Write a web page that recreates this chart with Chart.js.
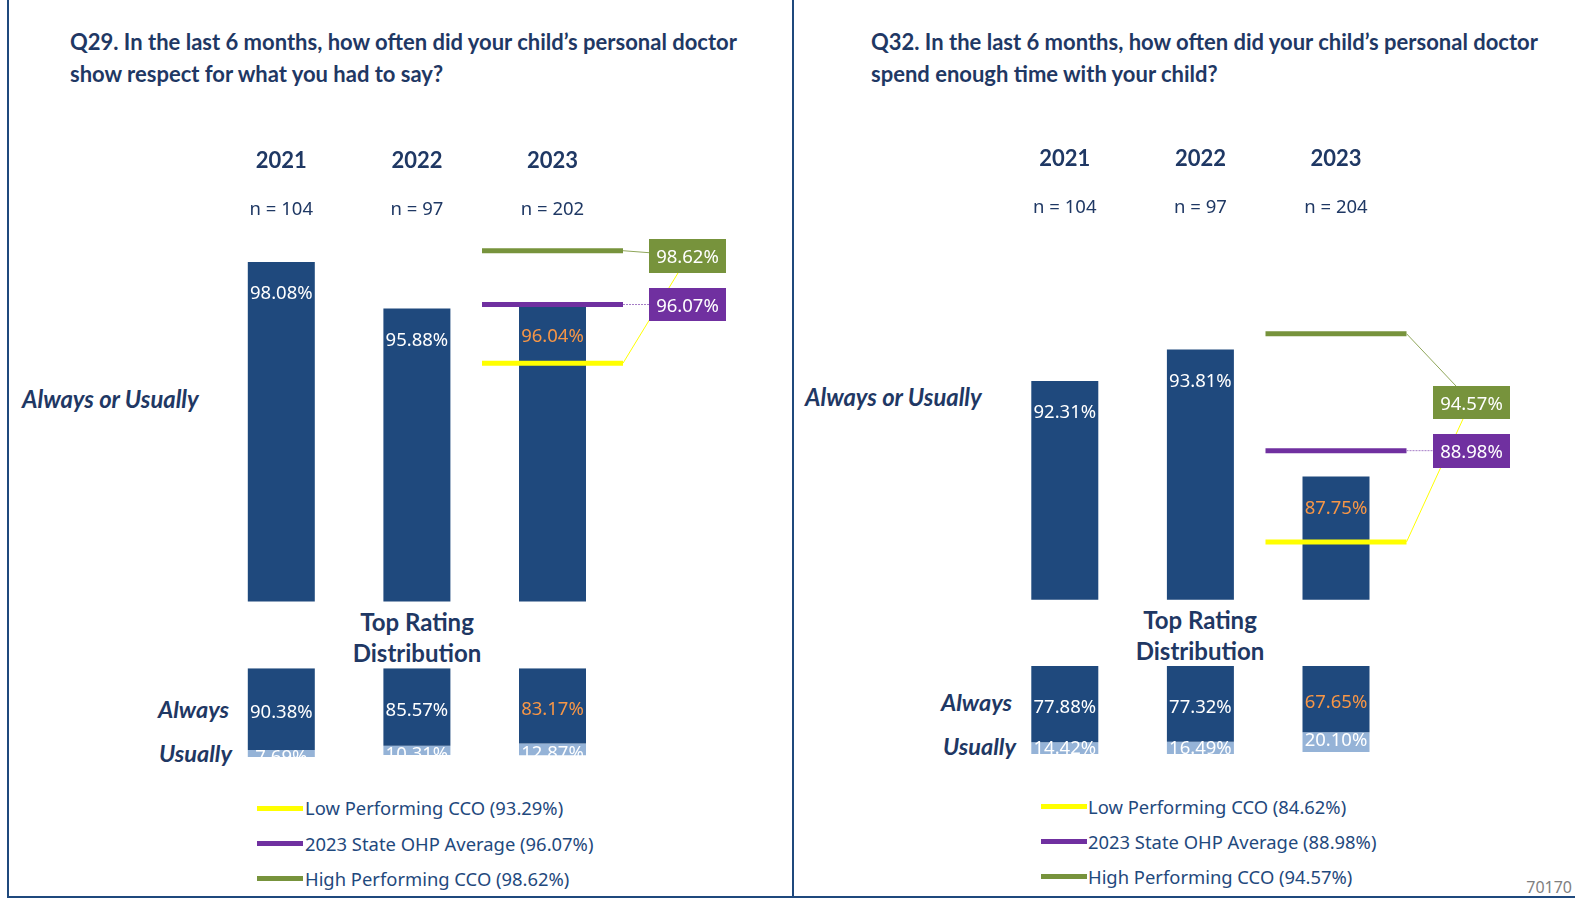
<!DOCTYPE html>
<html>
<head>
<meta charset="utf-8">
<script src="https://cdn.jsdelivr.net/npm/chart.js@4.4.1/dist/chart.umd.min.js"></script>
<style>
body { margin: 0; width: 1575px; height: 898px; position: relative; overflow: hidden; background: #fff; font-family: 'Noto Sans', sans-serif; }
canvas { position: absolute; left: 0; top: 0; }
.t { position: absolute; white-space: nowrap; color: #1F3864; }
.title { font: bold 22px Lato; line-height: 32px; }
.side { font: italic bold 23.8px Lato; line-height: 28px; }
.trd { font: bold 24px Lato; line-height: 31px; text-align: center; width: 200px; }
.ar { font: italic bold 23.5px Lato; line-height: 28px; text-align: right; width: 120px; }
.leg { font: 18.4px 'Noto Sans'; line-height: 24px; color: #1F497D; }
.sw { position: absolute; width: 46px; height: 5px; }
.rule { position: absolute; background: #1F497D; }
</style>
</head>
<body>
<div class="rule" style="left:7px;top:0;width:2px;height:898px"></div>
<div class="rule" style="left:792px;top:0;width:2px;height:898px"></div>
<div class="rule" style="left:7px;top:896px;width:1568px;height:2px"></div>

<div class="t title" style="left:70px;top:26px">Q29. In the last 6 months, how often did your child’s personal doctor<br>show respect for what you had to say?</div>
<div class="t title" style="left:871px;top:26px">Q32. In the last 6 months, how often did your child’s personal doctor<br>spend enough time with your child?</div>

<div class="t side" style="left:22px;top:385px">Always or Usually</div>
<div class="t side" style="left:805px;top:383px">Always or Usually</div>

<div class="t trd" style="left:317px;top:606px">Top Rating<br>Distribution</div>
<div class="t trd" style="left:1100px;top:604px">Top Rating<br>Distribution</div>

<div class="t ar" style="left:109px;top:695px">Always</div>
<div class="t ar" style="left:112px;top:739px">Usually</div>
<div class="t ar" style="left:892px;top:688px">Always</div>
<div class="t ar" style="left:896px;top:732px">Usually</div>

<div id="legQ29"></div>
<div id="legQ32"></div>

<div class="t" style="right:3px;top:876px;font:16px 'Noto Sans';color:#7F7F7F;line-height:22px">70170</div>

<canvas id="q29top" width="1575" height="898"></canvas>
<canvas id="q29bot" width="1575" height="898"></canvas>
<canvas id="q32top" width="1575" height="898"></canvas>
<canvas id="q32bot" width="1575" height="898"></canvas>

<script>
// data
const years = ['2021', '2022', '2023'];
const benchNames = ['Low Performing CCO', '2023 State OHP Average', 'High Performing CCO'];

const q29N = [104, 97, 202];
const q29Top = [98.08, 95.88, 96.04];
const q29Always = [90.38, 85.57, 83.17];
const q29Usually = [7.69, 10.31, 12.87];
const q29Bench = [93.29, 96.07, 98.62];

const q32N = [104, 97, 204];
const q32Top = [92.31, 93.81, 87.75];
const q32Always = [77.88, 77.32, 67.65];
const q32Usually = [14.42, 16.49, 20.10];
const q32Bench = [84.62, 88.98, 94.57];

// styles
const NAVY = '#1F3864';
const BAR = '#1F497D';
const LIGHT = '#95B3D7';
const ORANGE = '#F79646';
const benchColors = ['#FFFF00', '#7030A0', '#77933C'];
const HALF = 70.5;

Chart.defaults.animation = false;
Chart.defaults.responsive = false;
Chart.defaults.devicePixelRatio = 1;

// layout for each panel (page pixels)
const q29Geo = {
  area: { left: 213.5, right: 620.3, top: 221.6, bottom: 601.4 },
  yMin: 82, yearY: 161, nY: 210,
  bot: { top: 668.3, bottom: 757, max: 98.1, usualShift: 4 },
  boxGreen: { x: 649, y: 239, w: 77, h: 34 },
  boxPurple: { x: 649, y: 288, w: 77, h: 33 },
  greenTo: [649, 252.7], yellowTo: [678, 273],
  leg: { x: 256.5, text: 305, rows: [808.3, 843.5, 878.7] }
};
const q32Geo = {
  area: { left: 997, right: 1403.8, top: 220.0, bottom: 599.7 },
  yMin: 81.86, yearY: 159, nY: 208,
  bot: { top: 666, bottom: 754, max: 89.8, usualShift: -1 },
  boxGreen: { x: 1433, y: 386, w: 77, h: 33 },
  boxPurple: { x: 1433, y: 434, w: 77, h: 34 },
  greenTo: [1456, 386], yellowTo: [1463, 419],
  leg: { x: 1040.5, text: 1088, rows: [806.6, 841.8, 876.9] }
};

const pct = v => v.toFixed(2) + '%';

const topPlugin = {
  id: 'topPlugin',
  afterDraw(chart, args, o) {
    const ctx = chart.ctx, xs = chart.scales.x, ys = chart.scales.y, g = o.geo;
    const bars = chart.getDatasetMeta(0).data;
    ctx.save();
    ctx.textAlign = 'center';
    ctx.textBaseline = 'middle';
    bars.forEach((b, i) => {
      ctx.font = '18.5px "Noto Sans"';
      ctx.fillStyle = i === 2 ? ORANGE : '#fff';
      ctx.fillText(pct(o.top[i]), b.x, b.y + 32);
      ctx.fillStyle = NAVY;
      ctx.font = 'bold 22px Lato';
      ctx.fillText(years[i], b.x, g.yearY);
      ctx.font = '18.5px "Noto Sans"';
      ctx.fillText('n = ' + o.n[i], b.x, g.nY);
    });
    // connectors
    const end = xs.getPixelForValue(2) + HALF;
    const yLow = ys.getPixelForValue(o.bench[0]);
    const yMid = ys.getPixelForValue(o.bench[1]);
    const yHigh = ys.getPixelForValue(o.bench[2]);
    ctx.lineWidth = 1;
    ctx.strokeStyle = '#FFFF00';
    ctx.beginPath(); ctx.moveTo(end, yLow); ctx.lineTo(g.yellowTo[0], g.yellowTo[1]); ctx.stroke();
    ctx.strokeStyle = '#8FA65A';
    ctx.beginPath(); ctx.moveTo(end, yHigh); ctx.lineTo(g.greenTo[0], g.greenTo[1]); ctx.stroke();
    ctx.strokeStyle = '#A57CC6';
    ctx.setLineDash([2, 1]);
    ctx.beginPath(); ctx.moveTo(end, yMid); ctx.lineTo(g.boxPurple.x, yMid); ctx.stroke();
    ctx.setLineDash([]);
    // value boxes
    [[g.boxGreen, benchColors[2], o.bench[2]], [g.boxPurple, benchColors[1], o.bench[1]]].forEach(([bx, c, v]) => {
      ctx.fillStyle = c;
      ctx.fillRect(bx.x, bx.y, bx.w, bx.h);
      ctx.fillStyle = '#fff';
      ctx.font = '18.5px "Noto Sans"';
      ctx.fillText(pct(v), bx.x + bx.w / 2, bx.y + bx.h / 2 + 2);
    });
    ctx.restore();
  }
};

const botPlugin = {
  id: 'botPlugin',
  afterDatasetsDraw(chart, args, o) {
    const ctx = chart.ctx, a = chart.chartArea;
    ctx.save();
    ctx.beginPath();
    ctx.rect(a.left - 50, a.top, a.right - a.left + 100, a.bottom - a.top);
    ctx.clip();
    ctx.textAlign = 'center';
    ctx.textBaseline = 'middle';
    ctx.font = '18.5px "Noto Sans"';
    chart.data.datasets.forEach((ds, di) => {
      chart.getDatasetMeta(di).data.forEach((b, i) => {
        ctx.fillStyle = (di === 0 && i === 2) ? ORANGE : '#fff';
        const shift = di === 0 ? 4 : o.usualShift;
        ctx.fillText(pct(ds.data[i]), b.x, (b.y + b.base) / 2 + shift);
      });
    });
    ctx.restore();
  }
};

function pad(area) {
  return { left: area.left, right: 1575 - area.right, top: area.top, bottom: 898 - area.bottom };
}

function makeTop(id, top, n, bench, geo) {
  const datasets = [{
    type: 'bar', data: top, backgroundColor: BAR, borderWidth: 0,
    barPercentage: 67 / 135.6, categoryPercentage: 1, order: 2
  }];
  bench.forEach((v, k) => {
    datasets.push({
      type: 'line', data: [null, null, v], showLine: false, clip: false,
      pointStyle: 'line', pointRadius: HALF, pointHoverRadius: HALF,
      pointBorderWidth: 5, pointHoverBorderWidth: 5,
      pointBorderColor: benchColors[k], pointBackgroundColor: benchColors[k], order: 1
    });
  });
  new Chart(document.getElementById(id), {
    type: 'bar',
    data: { labels: years, datasets },
    options: {
      layout: { padding: pad(geo.area) },
      events: [],
      scales: {
        x: { display: false },
        y: { display: false, min: geo.yMin, max: 100 }
      },
      plugins: { legend: { display: false }, tooltip: { enabled: false },
        topPlugin: { top, n, bench, geo } }
    },
    plugins: [topPlugin]
  });
}

function makeBot(id, always, usually, geo) {
  const area = { left: geo.area.left, right: geo.area.right, top: geo.bot.top, bottom: geo.bot.bottom };
  new Chart(document.getElementById(id), {
    type: 'bar',
    data: {
      labels: years,
      datasets: [
        { data: always, backgroundColor: BAR, barPercentage: 67 / 135.6, categoryPercentage: 1 },
        { data: usually, backgroundColor: LIGHT, barPercentage: 67 / 135.6, categoryPercentage: 1 }
      ]
    },
    options: {
      layout: { padding: pad(area) },
      events: [],
      scales: {
        x: { display: false, stacked: true },
        y: { display: false, stacked: true, reverse: true, min: 0, max: geo.bot.max }
      },
      plugins: { legend: { display: false }, tooltip: { enabled: false },
        botPlugin: { usualShift: geo.bot.usualShift } }
    },
    plugins: [botPlugin]
  });
}

function makeLegend(id, bench, geo) {
  const host = document.getElementById(id);
  bench.forEach((v, k) => {
    const y = geo.leg.rows[k];
    const sw = document.createElement('div');
    sw.className = 'sw';
    sw.style.left = geo.leg.x + 'px';
    sw.style.top = (y - 2.5) + 'px';
    sw.style.background = benchColors[k];
    host.appendChild(sw);
    const tx = document.createElement('div');
    tx.className = 't leg';
    tx.style.left = geo.leg.text + 'px';
    tx.style.top = (y - 12) + 'px';
    tx.textContent = benchNames[k] + ' (' + pct(v) + ')';
    host.appendChild(tx);
  });
}

makeTop('q29top', q29Top, q29N, q29Bench, q29Geo);
makeBot('q29bot', q29Always, q29Usually, q29Geo);
makeTop('q32top', q32Top, q32N, q32Bench, q32Geo);
makeBot('q32bot', q32Always, q32Usually, q32Geo);
makeLegend('legQ29', q29Bench, q29Geo);
makeLegend('legQ32', q32Bench, q32Geo);
</script>
</body>
</html>
